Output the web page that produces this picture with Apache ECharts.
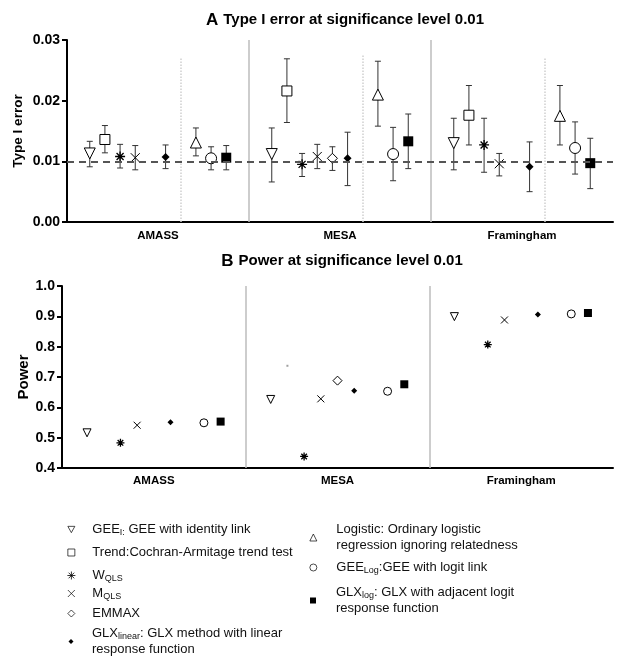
<!DOCTYPE html>
<html><head><meta charset="utf-8">
<script src="https://cdn.jsdelivr.net/npm/echarts@6/dist/echarts.min.js"></script>
<style>html,body{margin:0;padding:0;background:#fff}#c{width:621px;height:666px}</style>
</head><body><div id="c"></div>
<script>
// ---------- DATA ----------
const cohorts = ['AMASS', 'MESA', 'Framingham'];
const methods = ['GEE_I', 'Trend', 'W_QLS', 'M_QLS', 'EMMAX', 'GLX_linear', 'Logistic', 'GEE_Log', 'GLX_log'];
// Type I error estimates (rows: methods, cols: cohorts)
const typeIEstimate = [
  [0.0113, 0.0112, 0.0130],
  [0.0136, 0.0216, 0.0176],
  [0.0108, 0.0095, 0.0127],
  [0.0106, 0.0108, 0.0096],
  [null,   0.0105, null  ],
  [0.0107, 0.0105, 0.0091],
  [0.0131, 0.0210, 0.0175],
  [0.0105, 0.0112, 0.0122],
  [0.0106, 0.0133, 0.0097]
];
const typeILower = [
  [0.0091, 0.0066, 0.0086],
  [0.0114, 0.0164, 0.0127],
  [0.0089, 0.0075, 0.0082],
  [0.0086, 0.0088, 0.0076],
  [null,   0.0085, null  ],
  [0.0088, 0.0060, 0.0050],
  [0.0109, 0.0158, 0.0127],
  [0.0086, 0.0068, 0.0079],
  [0.0086, 0.0088, 0.0055]
];
const typeIUpper = [
  [0.0133, 0.0155, 0.0171],
  [0.0159, 0.0269, 0.0225],
  [0.0128, 0.0113, 0.0171],
  [0.0126, 0.0128, 0.0113],
  [null,   0.0124, null  ],
  [0.0127, 0.0148, 0.0132],
  [0.0155, 0.0265, 0.0225],
  [0.0124, 0.0156, 0.0165],
  [0.0126, 0.0178, 0.0138]
];
// Power at 0.01
const powerValues = [
  [0.516, 0.626, 0.899],
  [null,  0.737, null ],
  [0.483, 0.438, 0.807],
  [0.541, 0.628, 0.888],
  [null,  0.688, null ],
  [0.551, 0.655, 0.906],
  [null,  null,  null ],
  [0.549, 0.653, 0.908],
  [0.553, 0.676, 0.911]
];
const typeITicks = [0, 0.01, 0.02, 0.03];
const powerTicks = [0.4, 0.5, 0.6, 0.7, 0.8, 0.9, 1.0];
const nominalLevel = 0.01;
const legendLabels = [
  '{g|}{n|GEE}{s|I:}{n| GEE with identity link}',
  '{g|}{n|Trend:Cochran-Armitage trend test}',
  '{g|}{n|W}{s|QLS}',
  '{g|}{n|M}{s|QLS}',
  '{g|}{n|EMMAX}',
  '{g|}{n|GLX}{s|linear}{n|: GLX method with linear}\n{g|}{n|response function}',
  '{g|}{n|Logistic: Ordinary logistic}\n{g|}{n|regression ignoring relatedness}',
  '{g|}{n|GEE}{s|Log}{n|:GEE with logit link}',
  '{g|}{n|GLX}{s|log}{n|: GLX with adjacent logit}\n{g|}{n|response function}'
];

// ---------- LAYOUT / STYLE ----------
const FONT = "'Liberation Sans', Arial, sans-serif";
const slotsA = [1, 2, 3, 4, 5, 6, 8, 9, 10];   // 12 slots per cohort, dotted divider at slot 7
const slotsB = [1, 2, 3, 4, 5, 6, 7, 8, 9];    // 11 slots per cohort
const perA = 12, perB = 11;
const ASTER = 'path://M5,0L5,10M0,5L10,5M1.5,1.5L8.5,8.5M8.5,1.5L1.5,8.5';
const CROSS = 'path://M0,0L10,10M10,0L0,10';
const INVTRI = 'path://M0,0L10,0L5,9Z';
const symbolStyle = [
  {symbol: INVTRI, color: '#fff', bw: 1},
  {symbol: 'rect', color: '#fff', bw: 1},
  {symbol: ASTER, color: 'rgba(0,0,0,0)', bw: 1.3},
  {symbol: CROSS, color: 'rgba(0,0,0,0)', bw: 1},
  {symbol: 'diamond', color: '#fff', bw: 1},
  {symbol: 'diamond', color: '#000', bw: 0},
  {symbol: 'triangle', color: '#fff', bw: 1},
  {symbol: 'circle', color: '#fff', bw: 1},
  {symbol: 'rect', color: '#000', bw: 0}
];
const sizeA = [11, 10, 10, 9, 10, 8, 11, 11, 10];
const sizeB = [8, 2, 8, 7, 9, 6, 8, 8, 8];
const sizeLegend = [7, 7, 8, 7, 7, 5, 7, 7, 6];
const legendBorder = [0.7, 0.7, 0.8, 0.7, 0.7, 0, 0.7, 0.7, 0];
const legendPos = [
  [71, 531], [71, 554], [71, 577], [71, 595], [71, 615], [71, 643],
  [313, 539], [313, 569], [313, 602]
];
const legendTextX = [92, 92, 92, 92, 92, 92, 336, 336, 336];

// ---------- BUILD ----------
const series = [];
const errData = [];
methods.forEach((m, i) => {
  const st = symbolStyle[i];
  const dA = [], dB = [];
  cohorts.forEach((c, j) => {
    if (typeIEstimate[i][j] != null) {
      const x = j * perA + slotsA[i] + 0.5;
      dA.push([x, typeIEstimate[i][j]]);
      errData.push([x, typeILower[i][j], typeIUpper[i][j]]);
    }
    if (powerValues[i][j] != null) {
      dB.push([j * perB + slotsB[i] + 0.5, powerValues[i][j]]);
    }
  });
  const itemStyle = {color: st.color, borderColor: '#000', borderWidth: st.bw, opacity: 1};
  series.push({
    name: m, type: 'scatter', xAxisIndex: 0, yAxisIndex: 0, data: dA,
    symbol: st.symbol, symbolSize: sizeA[i], itemStyle: itemStyle, z: 4,
    emphasis: {disabled: true}, animation: false
  });
  series.push({
    name: m, type: 'scatter', xAxisIndex: 1, yAxisIndex: 1, data: dB,
    symbol: st.symbol, symbolSize: sizeB[i],
    itemStyle: i === 1 ? {color: '#888', borderColor: '#888', borderWidth: 0} : itemStyle, z: 4,
    emphasis: {disabled: true}, animation: false
  });
});

series.push({
  type: 'custom', xAxisIndex: 0, yAxisIndex: 0, data: errData, z: 3, silent: true, animation: false,
  renderItem: function (params, api) {
    const x = api.value(0);
    const pLo = api.coord([x, api.value(1)]);
    const pHi = api.coord([x, api.value(2)]);
    const w = 3;
    const st = {stroke: '#333', lineWidth: 1};
    return {type: 'group', children: [
      {type: 'line', shape: {x1: pLo[0], y1: pLo[1], x2: pHi[0], y2: pHi[1]}, style: st},
      {type: 'line', shape: {x1: pHi[0] - w, y1: pHi[1], x2: pHi[0] + w, y2: pHi[1]}, style: st},
      {type: 'line', shape: {x1: pLo[0] - w, y1: pLo[1], x2: pLo[0] + w, y2: pLo[1]}, style: st}
    ]};
  }
});

const solidLine = {color: '#bdbdbd', width: 1.5, type: 'solid'};
const dottedLine = {color: '#cfcfcf', width: 1.5, type: 'dotted'};
series.push({
  type: 'line', xAxisIndex: 0, yAxisIndex: 0, data: [], z: 1, silent: true, animation: false,
  markLine: {
    symbol: ['none', 'none'], silent: true, animation: false, label: {show: false},
    data: [
      {xAxis: perA, lineStyle: solidLine},
      {xAxis: 2 * perA, lineStyle: solidLine},
      [{coord: [7.5, 0], lineStyle: dottedLine}, {coord: [7.5, 0.027]}],
      [{coord: [perA + 7.5, 0], lineStyle: dottedLine}, {coord: [perA + 7.5, 0.0275]}],
      [{coord: [2 * perA + 7.5, 0], lineStyle: dottedLine}, {coord: [2 * perA + 7.5, 0.0272]}],
      {yAxis: nominalLevel, lineStyle: {color: '#555', width: 2, type: [7, 5]}}
    ]
  }
});
series.push({
  type: 'line', xAxisIndex: 1, yAxisIndex: 1, data: [], z: 1, silent: true, animation: false,
  markLine: {
    symbol: ['none', 'none'], silent: true, animation: false, label: {show: false},
    data: [
      {xAxis: perB, lineStyle: solidLine},
      {xAxis: 2 * perB, lineStyle: solidLine}
    ]
  }
});

const axisLine = {show: true, lineStyle: {color: '#000', width: 2}};
const catLabel = (per) => ({
  fontFamily: FONT, fontWeight: 'bold', fontSize: 11.5, color: '#000', margin: 8,
  formatter: function (v) {
    const k = Math.round(v / (per / 2));
    if (k % 2 === 1) return cohorts[(k - 1) / 2] || '';
    return '';
  }
});

const legends = methods.map((m, i) => {
  const s = sizeLegend[i];
  const lines = legendLabels[i].split('\n').length;
  const lh = 16;
  const textH = lines * lh;
  const gap = legendTextX[i] - legendPos[i][0] - s / 2 - 5;
  return {
    data: [m], selectedMode: false, padding: 0,
    left: legendPos[i][0] - s / 2, top: legendPos[i][1] - Math.max(textH, s) / 2,
    itemWidth: s, itemHeight: s,
    itemStyle: {borderWidth: legendBorder[i], borderColor: '#000'},
    formatter: function () { return legendLabels[i]; },
    textStyle: {
      fontFamily: FONT, color: '#000',
      rich: {
        g: {width: gap},
        n: {fontFamily: FONT, fontSize: 13, color: '#111', lineHeight: lh},
        s: {fontFamily: FONT, fontSize: 9, color: '#111', verticalAlign: 'bottom'}
      }
    }
  };
});

const option = {
  backgroundColor: '#fff',
  animation: false,
  title: [
    {text: '{a|A} {b|Type I error at significance level 0.01}', left: 340, top: 6, textAlign: 'center',
     textStyle: {rich: {a: {fontFamily: FONT, fontWeight: 'bold', fontSize: 17, color: '#000'}, b: {fontFamily: FONT, fontWeight: 'bold', fontSize: 15, color: '#000'}}}},
    {text: '{a|B} {b|Power at significance level 0.01}', left: 337, top: 247, textAlign: 'center',
     textStyle: {rich: {a: {fontFamily: FONT, fontWeight: 'bold', fontSize: 17, color: '#000'}, b: {fontFamily: FONT, fontWeight: 'bold', fontSize: 15, color: '#000'}}}}
  ],
  legend: legends,
  grid: [
    {left: 67, top: 40, width: 546, height: 182, containLabel: false, outerBoundsMode: 'none'},
    {left: 62, top: 286, width: 551, height: 182, containLabel: false, outerBoundsMode: 'none'}
  ],
  xAxis: [
    {gridIndex: 0, type: 'value', min: 0, max: 3 * perA, interval: perA / 2, axisLine: axisLine,
     axisTick: {show: false}, splitLine: {show: false}, axisLabel: catLabel(perA)},
    {gridIndex: 1, type: 'value', min: 0, max: 3 * perB, interval: perB / 2, axisLine: axisLine,
     axisTick: {show: false}, splitLine: {show: false}, axisLabel: Object.assign(catLabel(perB), {margin: 7})}
  ],
  yAxis: [
    {gridIndex: 0, type: 'value', min: typeITicks[0], max: typeITicks[typeITicks.length - 1],
     interval: typeITicks[1] - typeITicks[0], axisLine: axisLine,
     axisTick: {show: true, length: 5, lineStyle: {color: '#000', width: 2}},
     splitLine: {show: false},
     axisLabel: {fontFamily: FONT, fontWeight: 'bold', fontSize: 14, color: '#000', margin: 7,
                 formatter: v => v.toFixed(2)},
     name: 'Type I error', nameLocation: 'middle', nameGap: 42, nameMoveOverlap: false,
     nameTextStyle: {fontFamily: FONT, fontWeight: 'bold', fontSize: 13.5, color: '#000'}},
    {gridIndex: 1, type: 'value', min: powerTicks[0], max: powerTicks[powerTicks.length - 1],
     interval: 0.1, axisLine: axisLine,
     axisTick: {show: true, length: 5, lineStyle: {color: '#000', width: 2}},
     splitLine: {show: false},
     axisLabel: {fontFamily: FONT, fontWeight: 'bold', fontSize: 14, color: '#000', margin: 7,
                 formatter: v => v.toFixed(1)},
     name: 'Power', nameLocation: 'middle', nameGap: 31, nameMoveOverlap: false,
     nameTextStyle: {fontFamily: FONT, fontWeight: 'bold', fontSize: 15, color: '#000'}}
  ],
  series: series
};

const chart = echarts.init(document.getElementById('c'), null, {renderer: 'canvas'});
chart.setOption(option);
</script>
</body></html>
